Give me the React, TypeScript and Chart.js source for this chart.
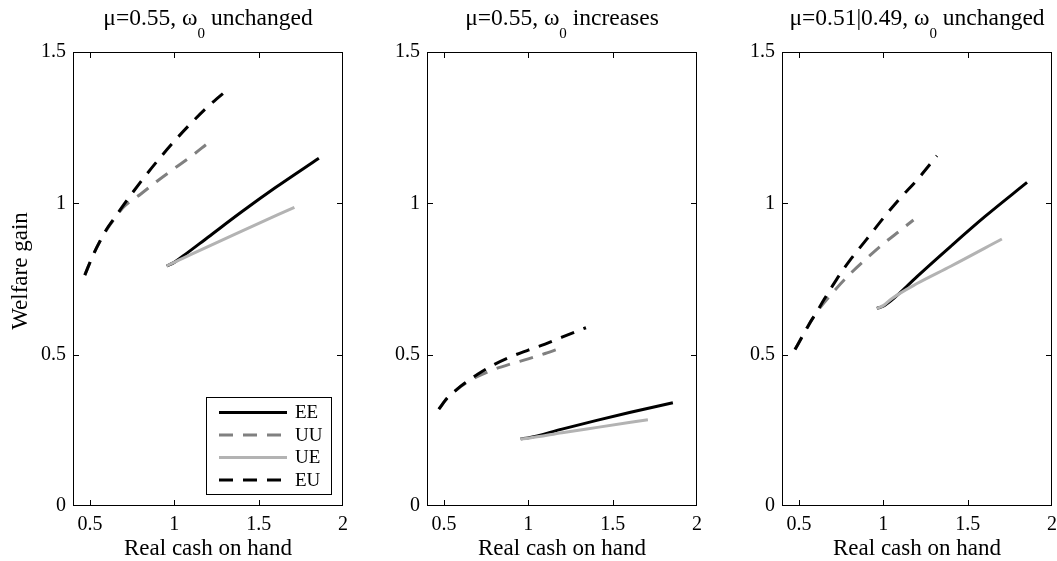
import { useEffect, useRef } from "react";
import { Chart, registerables } from "chart.js";

Chart.register(...registerables);

const FONT = '"Liberation Serif", "Times New Roman", Times, serif';

// Axis ticks shared by all three panels
const xTicks = [0.5, 1, 1.5, 2];
const yTicks = [0, 0.5, 1, 1.5];
const X_MIN = 0.4;
const X_MAX = 2;
const Y_MIN = 0;
const Y_MAX = 1.5;

const seriesNames = ["EE", "UU", "UE", "EU"];
const seriesColors = ["#000000", "#808080", "#b3b3b3", "#000000"];
const seriesDashes: number[][] = [[], [14, 10], [], [14, 10]];

// Panel 1: mu = 0.55, omega_0 unchanged  ([cash on hand, welfare gain])
const p1EE: [number, number][] = [[0.955, 0.793], [1.0, 0.805], [1.05, 0.825], [1.2, 0.888], [1.4, 0.972], [1.6, 1.052], [1.857, 1.149]];
const p1UU: [number, number][] = [[0.47, 0.763], [0.52, 0.83], [0.56, 0.875], [0.6, 0.913], [0.65, 0.952], [0.7, 0.988], [0.8, 1.03], [0.9, 1.074], [1.0, 1.115], [1.1, 1.155], [1.193, 1.196]];
const p1UE: [number, number][] = [[0.955, 0.793], [1.0, 0.805], [1.05, 0.818], [1.2, 0.857], [1.4, 0.908], [1.712, 0.987]];
const p1EU: [number, number][] = [[0.47, 0.763], [0.52, 0.83], [0.56, 0.875], [0.6, 0.915], [0.65, 0.955], [0.7, 0.995], [0.8, 1.07], [0.9, 1.14], [1.0, 1.205], [1.1, 1.265], [1.2, 1.32], [1.327, 1.381]];

// Panel 2: mu = 0.55, omega_0 increases
const p2EE: [number, number][] = [[0.955, 0.222], [1.0, 0.225], [1.2, 0.254], [1.4, 0.282], [1.6, 0.309], [1.857, 0.341]];
const p2UU: [number, number][] = [[0.47, 0.32], [0.52, 0.357], [0.56, 0.377], [0.6, 0.395], [0.65, 0.413], [0.7, 0.428], [0.8, 0.452], [0.9, 0.47], [1.0, 0.486], [1.1, 0.504], [1.193, 0.522]];
const p2UE: [number, number][] = [[0.955, 0.222], [1.0, 0.224], [1.2, 0.242], [1.4, 0.259], [1.709, 0.285]];
const p2EU: [number, number][] = [[0.47, 0.32], [0.52, 0.357], [0.56, 0.377], [0.6, 0.396], [0.65, 0.416], [0.7, 0.435], [0.8, 0.468], [0.9, 0.494], [1.0, 0.515], [1.1, 0.535], [1.2, 0.558], [1.342, 0.589]];

// Panel 3: mu = 0.51|0.49, omega_0 unchanged
const p3EE: [number, number][] = [[0.962, 0.653], [1.0, 0.66], [1.05, 0.68], [1.2, 0.758], [1.4, 0.858], [1.6, 0.955], [1.852, 1.069]];
const p3UU: [number, number][] = [[0.477, 0.517], [0.52, 0.56], [0.56, 0.6], [0.6, 0.636], [0.65, 0.672], [0.7, 0.705], [0.8, 0.765], [0.9, 0.817], [1.0, 0.866], [1.1, 0.91], [1.179, 0.945]];
const p3UE: [number, number][] = [[0.962, 0.653], [1.0, 0.662], [1.05, 0.685], [1.2, 0.735], [1.4, 0.792], [1.703, 0.882]];
const p3EU: [number, number][] = [[0.477, 0.517], [0.52, 0.56], [0.56, 0.6], [0.6, 0.636], [0.65, 0.683], [0.7, 0.728], [0.75, 0.771], [0.8, 0.81], [0.9, 0.88], [1.0, 0.951], [1.1, 1.017], [1.2, 1.077], [1.318, 1.157]];

const panelSeries = [
  [p1EE, p1UU, p1UE, p1EU],
  [p2EE, p2UU, p2UE, p2EU],
  [p3EE, p3UU, p3UE, p3EU],
];

// Title pieces: [text before subscript, subscript, text after]
const panelTitles: [string, string, string][] = [
  ["μ=0.55, ω", "0", " unchanged"],
  ["μ=0.55, ω", "0", " increases"],
  ["μ=0.51|0.49, ω", "0", " unchanged"],
];

const xLabel = "Real cash on hand";
const yLabel = "Welfare gain";

// Layout of the three canvases on the page
const CANVAS_LEFT = [0, 354, 709];
const CANVAS_W = 348;
const CANVAS_H = 561;
const Y_AXIS_W = 73;
const X_AXIS_H = 55;
const TOP_PAD = 52;
const RIGHT_PAD = 5;

function makeDecor(index: number) {
  return {
    id: "panelDecor",
    afterDatasetsDraw(chart: any) {
      const { ctx, chartArea } = chart;
      const { left, top, right, bottom } = chartArea;
      const xs = chart.scales.x;
      const ys = chart.scales.y;
      ctx.save();
      ctx.strokeStyle = "#000";
      ctx.lineWidth = 1;
      ctx.setLineDash([]);
      ctx.strokeRect(left + 0.5, top + 0.5, right - left - 1, bottom - top - 1);
      const tl = 5;
      ctx.beginPath();
      for (const v of xTicks) {
        const p = Math.round(xs.getPixelForValue(v)) + 0.5;
        if (p <= left + 1 || p >= right - 1) continue;
        ctx.moveTo(p, bottom - 1);
        ctx.lineTo(p, bottom - 1 - tl);
        ctx.moveTo(p, top + 1);
        ctx.lineTo(p, top + 1 + tl);
      }
      for (const v of yTicks) {
        const p = Math.round(ys.getPixelForValue(v)) + 0.5;
        if (p <= top + 1 || p >= bottom - 1) continue;
        ctx.moveTo(left + 1, p);
        ctx.lineTo(left + 1 + tl, p);
        ctx.moveTo(right - 1, p);
        ctx.lineTo(right - 1 - tl, p);
      }
      ctx.stroke();

      // legend box (first panel only)
      if (index === 0) {
        const bw = 125;
        const bh = 97;
        const bx = right - 12 - bw;
        const by = bottom - 12 - bh;
        ctx.fillStyle = "#fff";
        ctx.fillRect(bx, by, bw, bh);
        ctx.strokeStyle = "#000";
        ctx.lineWidth = 1;
        ctx.strokeRect(bx + 0.5, by + 0.5, bw, bh);
        ctx.font = `19px ${FONT}`;
        ctx.textBaseline = "middle";
        ctx.textAlign = "left";
        chart.data.datasets.forEach((ds: any, k: number) => {
          const ry = by + 15.5 + k * 22.5;
          ctx.beginPath();
          ctx.strokeStyle = ds.borderColor;
          ctx.lineWidth = ds.borderWidth;
          ctx.setLineDash(ds.borderDash || []);
          ctx.lineCap = "butt";
          ctx.moveTo(bx + 13, ry);
          ctx.lineTo(bx + 81, ry);
          ctx.stroke();
          ctx.setLineDash([]);
          ctx.fillStyle = "#000";
          ctx.fillText(ds.label, bx + 89, ry + 1);
        });
      }
      ctx.restore();
    },
    afterDraw(chart: any) {
      const { ctx, chartArea } = chart;
      const [a, sub, b] = panelTitles[index];
      ctx.save();
      ctx.fillStyle = "#000";
      ctx.textBaseline = "alphabetic";
      ctx.textAlign = "left";
      const mainFont = `23.5px ${FONT}`;
      const subFont = `15px ${FONT}`;
      ctx.font = mainFont;
      const wa = ctx.measureText(a).width;
      const wb = ctx.measureText(b).width;
      ctx.font = subFont;
      const ws = ctx.measureText(sub).width;
      const total = wa + ws + wb;
      let x0 = (chartArea.left + chartArea.right) / 2 - total / 2;
      if (x0 + total > chart.width - 12) x0 = chart.width - 12 - total;
      ctx.font = mainFont;
      ctx.fillText(a, x0, 25);
      ctx.font = subFont;
      ctx.fillText(sub, x0 + wa, 38);
      ctx.font = mainFont;
      ctx.fillText(b, x0 + wa + ws, 25);

      // vertical axis label on the first panel
      if (index === 0) {
        ctx.translate(21, 271);
        ctx.rotate(-Math.PI / 2);
        ctx.font = `23px ${FONT}`;
        ctx.textAlign = "center";
        ctx.textBaseline = "middle";
        ctx.fillText(yLabel, 0, 0);
      }
      ctx.restore();
    },
  };
}

function Panel({ index }: { index: number }) {
  const ref = useRef<HTMLCanvasElement>(null);
  useEffect(() => {
    const canvas = ref.current;
    if (!canvas) return;
    const chart = new Chart(canvas, {
      type: "line",
      data: {
        datasets: panelSeries[index].map((pts, k) => ({
          label: seriesNames[k],
          data: pts.map(([x, y]) => ({ x, y })),
          borderColor: seriesColors[k],
          backgroundColor: seriesColors[k],
          borderWidth: 3,
          borderDash: seriesDashes[k],
          borderCapStyle: "butt",
          borderJoinStyle: "round",
          pointRadius: 0,
          fill: false,
          cubicInterpolationMode: "monotone",
          order: 4 - k,
        })),
      },
      options: {
        animation: false,
        responsive: false,
        events: [],
        layout: { padding: { top: TOP_PAD, right: RIGHT_PAD, bottom: 0, left: 0 } },
        plugins: {
          legend: { display: false },
          tooltip: { enabled: false },
          title: { display: false },
        },
        scales: {
          x: {
            type: "linear",
            min: X_MIN,
            max: X_MAX,
            afterBuildTicks: (s: any) => {
              s.ticks = xTicks.map((v) => ({ value: v }));
            },
            afterFit: (s: any) => {
              s.height = X_AXIS_H;
              s.paddingLeft = 0;
              s.paddingRight = 0;
            },
            grid: { display: false, drawTicks: false },
            border: { display: false },
            ticks: {
              padding: 7,
              color: "#000",
              maxRotation: 0,
              autoSkip: false,
              font: { family: FONT, size: 20 },
              callback: (v: any) => String(v),
            },
            title: {
              display: true,
              text: xLabel,
              color: "#000",
              font: { family: FONT, size: 23, lineHeight: 1 },
              padding: { top: 0, bottom: 0.5 },
            },
          },
          y: {
            type: "linear",
            min: Y_MIN,
            max: Y_MAX,
            afterBuildTicks: (s: any) => {
              s.ticks = yTicks.map((v) => ({ value: v }));
            },
            afterFit: (s: any) => {
              s.width = Y_AXIS_W;
              s.paddingTop = 0;
              s.paddingBottom = 0;
            },
            grid: { display: false, drawTicks: false },
            border: { display: false },
            ticks: {
              padding: 7,
              color: "#000",
              autoSkip: false,
              font: { family: FONT, size: 20 },
              callback: (v: any) => String(v),
            },
          },
        },
      },
      plugins: [makeDecor(index)],
    } as any);
    return () => chart.destroy();
  }, [index]);
  return (
    <canvas
      ref={ref}
      width={CANVAS_W}
      height={CANVAS_H}
      style={{
        position: "absolute",
        left: CANVAS_LEFT[index],
        top: 0,
        width: CANVAS_W,
        height: CANVAS_H,
        display: "block",
      }}
    />
  );
}

export default function App() {
  return (
    <div
      style={{
        position: "absolute",
        left: 0,
        top: 0,
        width: 1057,
        height: 561,
        background: "#fff",
        overflow: "hidden",
      }}
    >
      {panelTitles.map((_, i) => (
        <Panel key={i} index={i} />
      ))}
    </div>
  );
}
